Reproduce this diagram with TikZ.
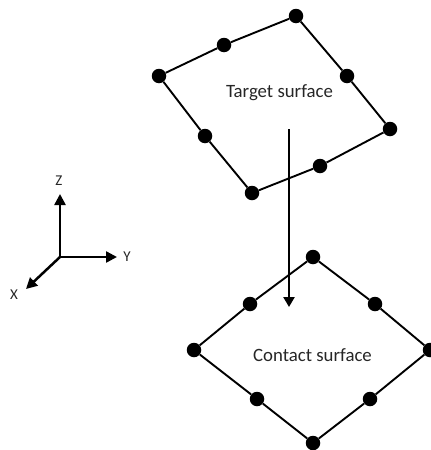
\documentclass[tikz,border=0pt]{standalone}
\usepackage{fontspec}
\setmainfont{Carlito}
\usetikzlibrary{arrows.meta}
\tikzset{
  meshnode/.style = {circle, fill=black, draw=none, minimum size=14.5pt, inner sep=0pt},% dot on a surface edge
  surfedge/.style = {draw=black, line width=1.9pt},
  bigarrow/.style = {draw=black, line width=2.5pt, -{Triangle[length=10pt,width=11pt]}},
  axisarrow/.style = {draw=black, line width=2.5pt, -{Triangle[length=11pt,width=11pt]}},
  surflabel/.style = {font=\fontsize{18.8pt}{20pt}\selectfont, text=black!85, inner sep=0pt},
  axislabel/.style = {font=\fontsize{15pt}{16pt}\selectfont, text=black!85, inner sep=0pt}
}
\begin{document}
\begin{tikzpicture}[x=1pt,y=-1pt]
  \useasboundingbox (0,0) rectangle (431,450);
  % target surface
  \node [meshnode] (t1) at (296,16) {};
  \node [meshnode] (t2) at (224,45) {};
  \node [meshnode] (t3) at (159,76) {};
  \node [meshnode] (t4) at (205,136) {};
  \node [meshnode] (t5) at (252,193) {};
  \node [meshnode] (t6) at (320,166) {};
  \node [meshnode] (t7) at (390,129) {};
  \node [meshnode] (t8) at (347,76) {};
  \draw [surfedge] (t1) -- (t2) -- (t3) -- (t4) -- (t5) -- (t6) -- (t7) -- (t8) -- (t1);
  \node [surflabel] (target) at (279.5,93) {Target surface};
  % contact surface
  \node [meshnode] (c1) at (313,257) {};
  \node [meshnode] (c2) at (250,304) {};
  \node [meshnode] (c3) at (194,350) {};
  \node [meshnode] (c4) at (257,399) {};
  \node [meshnode] (c5) at (313,443) {};
  \node [meshnode] (c6) at (370,399) {};
  \node [meshnode] (c7) at (430,350) {};
  \node [meshnode] (c8) at (375,304) {};
  \draw [surfedge] (c1) -- (c2) -- (c3) -- (c4) -- (c5) -- (c6) -- (c7) -- (c8) -- (c1);
  \node [surflabel] (contact) at (312.5,355) {Contact surface};
  % arrow between the surfaces
  \coordinate (from) at (289,129);
  \coordinate (to) at (289,307);
  \draw [bigarrow] (from) -- (to);
  % axes
  \coordinate (origin) at (60,257);
  \coordinate (zend) at (60,194);
  \coordinate (yend) at (117,257);
  \coordinate (xend) at (26,289);
  \draw [axisarrow] (origin) -- (zend);
  \draw [axisarrow] (origin) -- (yend);
  \draw [axisarrow] (origin) -- (xend);
  \node [axislabel] (zlabel) at (59,181) {Z};
  \node [axislabel] (ylabel) at (127,257) {Y};
  \node [axislabel] (xlabel) at (14,295) {X};
\end{tikzpicture}
\end{document}
